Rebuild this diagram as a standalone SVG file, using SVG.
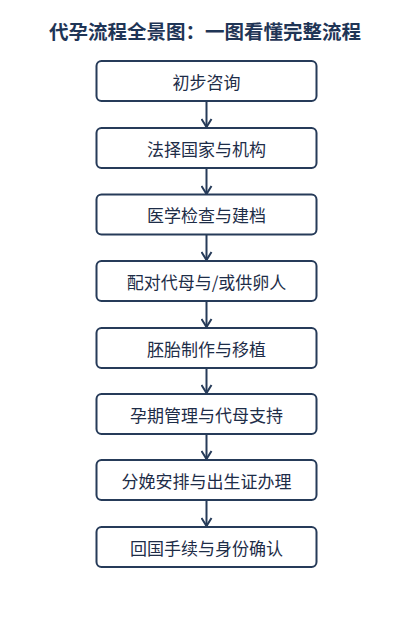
<svg xmlns="http://www.w3.org/2000/svg" width="413" height="626" viewBox="0 0 413 626">
<defs>
<style>
.box{fill:#ffffff;stroke:#263b59;stroke-width:2}
.lbl{font-family:"Noto Sans CJK SC","Noto Sans",sans-serif;font-size:17px;fill:#1e2d48;text-anchor:middle;dominant-baseline:central}
.ttl{font-family:"Noto Sans CJK SC","Noto Sans",sans-serif;font-size:19.5px;font-weight:bold;fill:#1f3556;text-anchor:middle;dominant-baseline:central}
.con{stroke:#263b59;stroke-width:2;fill:none}
</style>
<marker id="ah" viewBox="0 0 12 12" refX="10" refY="6" markerWidth="12" markerHeight="12" markerUnits="userSpaceOnUse" orient="auto">
<path d="M2,1 L10,6 L2,11" fill="none" stroke="#263b59" stroke-width="2"/>
</marker>
</defs>
<rect width="413" height="626" fill="#ffffff"/>
<text class="ttl" x="205" y="30">代孕流程全景图：一图看懂完整流程</text>
<g id="connectors">
<line class="con" x1="206.5" y1="101" x2="206.5" y2="127" marker-end="url(#ah)"/>
<line class="con" x1="206.5" y1="168" x2="206.5" y2="194" marker-end="url(#ah)"/>
<line class="con" x1="206.5" y1="234" x2="206.5" y2="260" marker-end="url(#ah)"/>
<line class="con" x1="206.5" y1="301" x2="206.5" y2="327" marker-end="url(#ah)"/>
<line class="con" x1="206.5" y1="368" x2="206.5" y2="393" marker-end="url(#ah)"/>
<line class="con" x1="206.5" y1="434" x2="206.5" y2="459" marker-end="url(#ah)"/>
<line class="con" x1="206.5" y1="500" x2="206.5" y2="526" marker-end="url(#ah)"/>
</g>
<g id="n1"><rect class="box" x="96.5" y="61" width="220" height="40" rx="5"/><text class="lbl" x="206.5" y="81">初步咨询</text></g>
<g id="n2"><rect class="box" x="96.5" y="128" width="220" height="40" rx="5"/><text class="lbl" x="206.5" y="148">法择国家与机构</text></g>
<g id="n3"><rect class="box" x="96.5" y="194.5" width="220" height="40" rx="5"/><text class="lbl" x="206.5" y="214.5">医学检查与建档</text></g>
<g id="n4"><rect class="box" x="96.5" y="261" width="220" height="40" rx="5"/><text class="lbl" x="206.5" y="281">配对代母与/或供卵人</text></g>
<g id="n5"><rect class="box" x="96.5" y="328" width="220" height="40" rx="5"/><text class="lbl" x="206.5" y="348">胚胎制作与移植</text></g>
<g id="n6"><rect class="box" x="96.5" y="394" width="220" height="40" rx="5"/><text class="lbl" x="206.5" y="414">孕期管理与代母支持</text></g>
<g id="n7"><rect class="box" x="96.5" y="460" width="220" height="40" rx="5"/><text class="lbl" x="206.5" y="480">分娩安排与出生证办理</text></g>
<g id="n8"><rect class="box" x="96.5" y="527" width="220" height="40" rx="5"/><text class="lbl" x="206.5" y="547">回国手续与身份确认</text></g>
</svg>
